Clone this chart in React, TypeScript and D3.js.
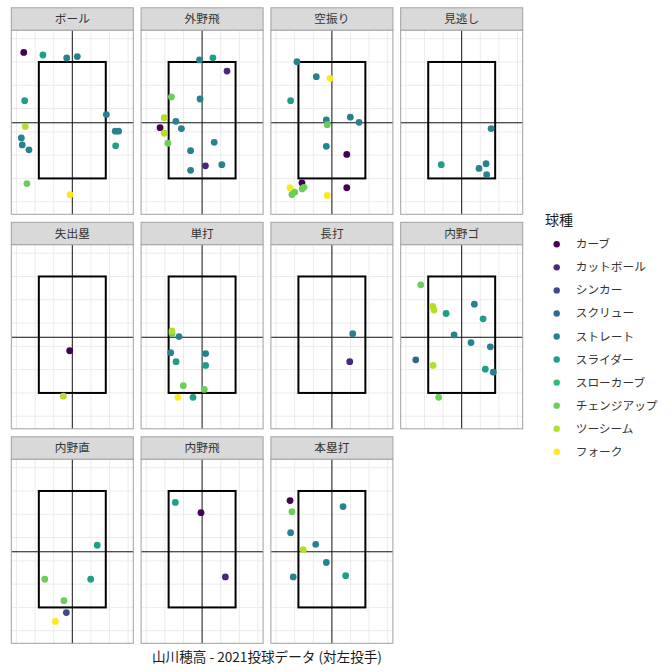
import React from 'react';
import * as d3 from 'd3';

// pitch types (legend order) and viridis colours
const pitchTypes = ['カーブ', 'カットボール', 'シンカー', 'スクリュー', 'ストレート', 'スライダー', 'スローカーブ', 'チェンジアップ', 'ツーシーム', 'フォーク'];
const pitchColors = ['#440154', '#482878', '#3E4A89', '#31688E', '#26828E', '#1F9E89', '#35B779', '#6DCD59', '#B4DE2C', '#FDE725'];

const facetNames = ['ボール', '外野飛', '空振り', '見逃し', '失出塁', '単打', '長打', '内野ゴ', '内野直', '内野飛', '本塁打'];

// [pitch type, x, y] per result
const ball = [
  ['カーブ', -2.61, 6.41], ['スライダー', -1.58, 6.30], ['ストレート', -0.30, 6.17], ['ストレート', 0.27, 6.23],
  ['スライダー', -2.56, 4.34], ['ストレート', 1.83, 3.74], ['ツーシーム', -2.53, 3.23], ['ストレート', 2.31, 3.03],
  ['ストレート', 2.49, 3.03], ['ストレート', -2.74, 2.74], ['ストレート', -2.69, 2.44], ['ストレート', -2.33, 2.23],
  ['スライダー', 2.33, 2.40], ['チェンジアップ', -2.44, 0.78], ['フォーク', -0.12, 0.30],
];
const outfieldFly = [
  ['ストレート', -0.14, 6.09], ['スライダー', 0.58, 6.18], ['カットボール', 1.34, 5.61], ['チェンジアップ', -1.65, 4.50],
  ['ストレート', -0.11, 4.41], ['ツーシーム', -2.04, 3.61], ['ストレート', -1.41, 3.45], ['カーブ', -2.26, 3.18],
  ['ストレート', -1.11, 3.14], ['ツーシーム', -2.04, 2.94], ['チェンジアップ', -1.84, 2.51], ['ストレート', 0.65, 2.55],
  ['ストレート', -0.62, 2.19], ['カットボール', 0.18, 1.54], ['ストレート', 1.06, 1.59], ['ストレート', -0.62, 1.35],
];
const swinging = [
  ['ストレート', -1.88, 6.01], ['ストレート', -0.84, 5.37], ['フォーク', -0.10, 5.30], ['スライダー', -2.22, 4.34],
  ['ストレート', -0.30, 3.51], ['チェンジアップ', -0.25, 3.31], ['ストレート', 0.99, 3.63], ['ストレート', 1.46, 3.41],
  ['ストレート', -0.30, 2.38], ['カーブ', 0.80, 2.03], ['カーブ', -1.61, 0.81], ['フォーク', -2.25, 0.60],
  ['チェンジアップ', -2.15, 0.31], ['チェンジアップ', -2.00, 0.41], ['チェンジアップ', -1.60, 0.55], ['チェンジアップ', -1.50, 0.62],
  ['カーブ', 0.80, 0.60], ['フォーク', -0.25, 0.27],
];
const called = [
  ['ストレート', 1.58, 3.14], ['スライダー', -1.10, 1.59], ['ストレート', 1.31, 1.63], ['ストレート', 0.93, 1.43],
  ['ストレート', 1.34, 1.16],
];
const reachedOnError = [['カーブ', -0.14, 2.81], ['ツーシーム', -0.48, 0.86]];
const single = [
  ['チェンジアップ', -1.62, 3.55], ['ツーシーム', -1.62, 3.66], ['ストレート', -1.24, 3.42], ['ストレート', -1.69, 2.73],
  ['ストレート', 0.19, 2.69], ['スライダー', -1.40, 2.34], ['スライダー', 0.19, 2.18], ['チェンジアップ', -1.01, 1.31],
  ['チェンジアップ', 0.12, 1.15], ['フォーク', -1.30, 0.81], ['スライダー', -0.49, 0.81],
];
const extraBase = [['ストレート', 1.12, 3.54], ['カットボール', 0.96, 2.34]];
const groundOut = [
  ['チェンジアップ', -2.20, 5.64], ['ツーシーム', -1.56, 4.71], ['ツーシーム', -1.49, 4.56], ['スライダー', -0.84, 4.41],
  ['ストレート', 0.68, 4.81], ['スライダー', 1.15, 4.18], ['ストレート', -0.41, 3.49], ['ストレート', 0.50, 3.16],
  ['ストレート', 1.54, 2.98], ['スクリュー', -2.47, 2.42], ['ツーシーム', -1.54, 2.18], ['スライダー', 1.27, 2.02],
  ['ストレート', 1.70, 1.89], ['チェンジアップ', -1.24, 0.81],
];
const lineOut = [
  ['スライダー', 1.34, 3.67], ['チェンジアップ', -1.48, 2.21], ['スライダー', 0.99, 2.21], ['チェンジアップ', -0.45, 1.29],
  ['シンカー', -0.32, 0.78], ['フォーク', -0.91, 0.40],
];
const infieldFly = [['スライダー', -1.44, 5.51], ['カーブ', -0.06, 5.07], ['カットボール', 1.25, 2.31]];
const homeRun = [
  ['カーブ', -2.25, 5.59], ['チェンジアップ', -2.15, 5.11], ['ストレート', 0.60, 5.33], ['ストレート', -2.22, 4.21],
  ['ストレート', -0.87, 3.71], ['ツーシーム', -1.54, 3.48], ['ストレート', -0.30, 2.93], ['ストレート', -2.08, 2.31],
  ['スライダー', 0.74, 2.36],
];
const facetData = [ball, outfieldFly, swinging, called, reachedOnError, single, extraBase, groundOut, lineOut, infieldFly, homeRun];

const zoneX = [-1.8, 1.8];
const zoneY = [1, 6];
const centerY = 3.39;
const gridX = [-3, -2, -1, 1, 2, 3];
const gridY = [0, 1, 2, 3, 4, 5, 6, 7];

const caption = '山川穂高 - 2021投球データ (対左投手)';

const W = 672;
const H = 672;
const font = '"Noto Sans CJK JP", "Noto Sans", sans-serif';

const panelW = 122;
const panelH = 184;
const stripH = 22.5;
const colLeft = (c: number) => 11.3 + c * 129.8;
const rowTop = (r: number) => 7.8 + r * 214.5;

const x = d3.scaleLinear().domain([-3.28, 3.28]).range([0, panelW]);
const y = d3.scaleLinear().domain([-0.54, 7.36]).range([panelH, 0]);
const color = d3.scaleOrdinal<string, string>().domain(pitchTypes).range(pitchColors);

const Panel = ({ name, points, left, top }: any) => {
  const pTop = top + stripH;
  return (
    <g>
      <rect x={left} y={top} width={panelW} height={stripH} fill="#d9d9d9" stroke="#a0a0a0" strokeWidth={1} />
      <text x={left + panelW / 2} y={top + stripH / 2 + 4} textAnchor="middle" fontSize={11.7} fill="#333" fontFamily={font}>
        {name}
      </text>
      <g transform={`translate(${left},${pTop})`}>
        <rect width={panelW} height={panelH} fill="#fff" />
        {gridX.map((g) => (
          <line key={'gx' + g} x1={x(g)} x2={x(g)} y1={0} y2={panelH} stroke="#ebebeb" strokeWidth={1} />
        ))}
        {gridY.map((g) => (
          <line key={'gy' + g} x1={0} x2={panelW} y1={y(g)} y2={y(g)} stroke="#ebebeb" strokeWidth={1} />
        ))}
        <line x1={x(0)} x2={x(0)} y1={0} y2={panelH} stroke="#111" strokeWidth={1} />
        <line x1={0} x2={panelW} y1={y(centerY)} y2={y(centerY)} stroke="#111" strokeWidth={1} />
        <rect
          x={x(zoneX[0])}
          y={y(zoneY[1])}
          width={x(zoneX[1]) - x(zoneX[0])}
          height={y(zoneY[0]) - y(zoneY[1])}
          fill="none"
          stroke="#000"
          strokeWidth={2}
        />
        {points.map((p: any, i: number) => (
          <circle key={i} cx={x(p[1])} cy={y(p[2])} r={3.4} fill={color(p[0])} />
        ))}
        <rect width={panelW} height={panelH} fill="none" stroke="#a0a0a0" strokeWidth={1} />
      </g>
    </g>
  );
};

export default function App() {
  return (
    <svg width={W} height={H} style={{ position: 'absolute', left: 0, top: 0, background: '#fff' }}>
      <rect width={W} height={H} fill="#fff" />
      {facetNames.map((name, i) => (
        <Panel key={name} name={name} points={facetData[i]} left={colLeft(i % 4)} top={rowTop(Math.floor(i / 4))} />
      ))}
      <text x={(colLeft(0) + colLeft(3) + panelW) / 2} y={662} textAnchor="middle" fontSize={13.6} fill="#1a1a1a" fontFamily={font}>
        {caption}
      </text>
      <text x={545} y={225} fontSize={14} fill="#1a1a1a" fontFamily={font}>
        球種
      </text>
      {pitchTypes.map((t, i) => (
        <g key={t} transform={`translate(0,${244.3 + i * 23.05})`}>
          <circle cx={556.7} cy={0} r={3.2} fill={color(t)} />
          <text x={575.7} y={4} fontSize={11.7} fill="#333" fontFamily={font}>
            {t}
          </text>
        </g>
      ))}
    </svg>
  );
}
